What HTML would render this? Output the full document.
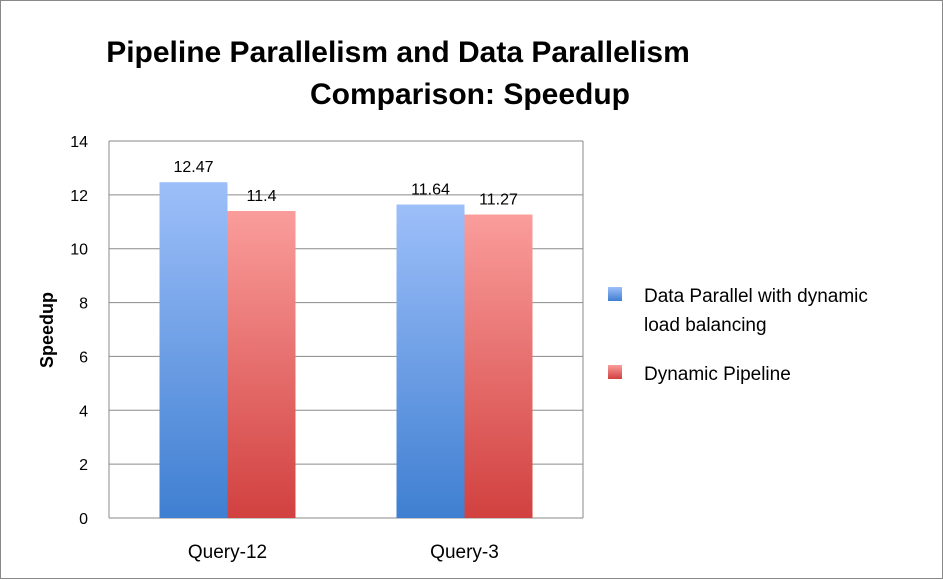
<!DOCTYPE html>
<html><head><meta charset="utf-8"><style>
body{margin:0;background:#fff;}
svg{display:block;font-family:"Liberation Sans",sans-serif;}
</style></head><body>
<svg width="943" height="580" viewBox="0 0 943 580">
<defs>
<linearGradient id="gb" x1="0" y1="0" x2="0" y2="1"><stop offset="0" stop-color="#9dbff9"/><stop offset="1" stop-color="#3f7fd1"/></linearGradient>
<linearGradient id="gr" x1="0" y1="0" x2="0" y2="1"><stop offset="0" stop-color="#fa9d9b"/><stop offset="1" stop-color="#d14140"/></linearGradient>
</defs>
<rect x="0.5" y="0.5" width="942" height="578" fill="#fff" stroke="#888"/>
<text x="398" y="62" text-anchor="middle" font-size="30" font-weight="bold">Pipeline Parallelism and Data Parallelism</text>
<text x="470" y="104" text-anchor="middle" font-size="30" font-weight="bold">Comparison: Speedup</text>
<g id="grid"></g>
<g id="bars"></g>
<text transform="translate(53,330) rotate(-90)" text-anchor="middle" font-size="18" font-weight="bold">Speedup</text>
<rect x="608" y="287" width="14" height="14" fill="url(#gb)"/>
<text x="644" y="302" font-size="19">Data Parallel with dynamic</text>
<text x="644" y="331" font-size="19">load balancing</text>
<rect x="608" y="365" width="14" height="14" fill="url(#gr)"/>
<text x="644" y="380" font-size="19">Dynamic Pipeline</text>
</svg>
<script>
const categories=["Query-12","Query-3"];
const dataParallel=[12.47,11.64];
const dynamicPipeline=[11.4,11.27];
const yTicks=[0,2,4,6,8,10,12,14];
const ns="http://www.w3.org/2000/svg";
const L=109,R=583,T=141,B=518,ymax=14;
const y=v=>B-(v/ymax)*(B-T);
const band=(R-L)/categories.length;
function mk(tag,attrs,parent,text){const e=document.createElementNS(ns,tag);for(const k in attrs)e.setAttribute(k,attrs[k]);if(text!==undefined)e.textContent=text;parent.appendChild(e);return e;}
const grid=document.getElementById('grid'),bars=document.getElementById('bars');
yTicks.forEach(t=>{
 const ln=mk('line',{x1:L,x2:R,y1:y(t),y2:y(t),stroke:'#8a8a8a','stroke-width':1},grid);
 
 
 const tx=mk('text',{x:88,y:y(t)+6,'text-anchor':'end','font-size':16},grid,String(t));
 
 
});
const ax=mk('line',{x1:L,x2:L,y1:T,y2:B,stroke:'#8a8a8a'},grid);


const rx=mk('line',{x1:R,x2:R,y1:T,y2:B,stroke:'#8a8a8a'},grid);


const bw=68;
categories.forEach((c,i)=>{
 const cx=L+band*(i+0.5);
 [[dataParallel[i],'url(#gb)',cx-bw,'data-parallel'],[dynamicPipeline[i],'url(#gr)',cx,'dynamic-pipeline']].forEach(([v,f,x,n])=>{
  const r=mk('rect',{x:x,y:y(v),width:bw,height:B-y(v),fill:f},bars);
  
  
  const t=mk('text',{x:x+bw/2,y:y(v)-10,'text-anchor':'middle','font-size':16},bars,String(v));
  
  
 });
 const lb=mk('text',{x:cx,y:558,'text-anchor':'middle','font-size':19},bars,c);
 
 
});
</script>
</body></html>
